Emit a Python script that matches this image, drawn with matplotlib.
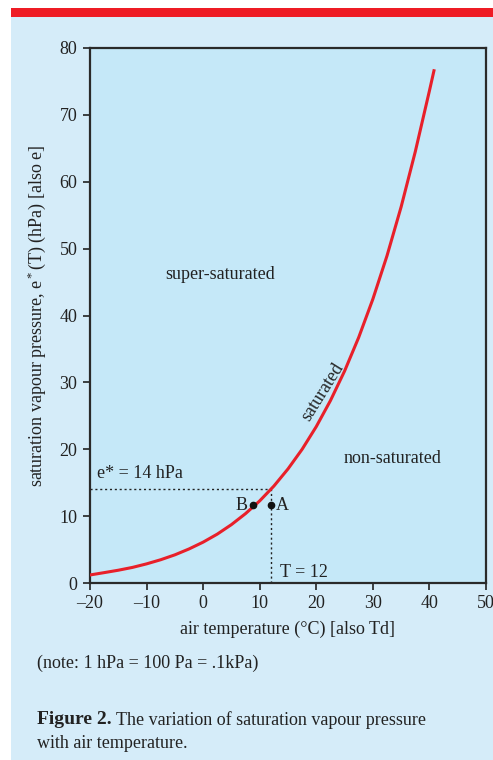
import matplotlib.pyplot as plt
from matplotlib.patches import Rectangle

plt.rcParams['font.family'] = ['Liberation Serif', 'DejaVu Serif']
plt.rcParams['mathtext.fontset'] = 'custom'
plt.rcParams['mathtext.rm'] = 'Liberation Serif'
plt.rcParams['mathtext.it'] = 'Liberation Serif:italic'
plt.rcParams['mathtext.bf'] = 'Liberation Serif:bold'

# saturation vapour pressure (hPa)
temp_c = [-20, -17.5, -15, -12.5, -10, -7.5, -5, -2.5, 0, 2.5, 5, 7.5, 10,
          12.5, 15, 17.5, 20, 22.5, 25, 27.5, 30, 32.5, 35, 37.5, 40, 40.8]
e_sat = [1.2, 1.55, 1.91, 2.33, 2.86, 3.48, 4.21, 5.09, 6.11, 7.31, 8.73,
         10.38, 12.28, 14.49, 17.06, 20.0, 23.39, 27.27, 31.69, 36.73,
         42.45, 48.93, 56.25, 64.5, 73.6, 76.6]

dew_temp = 12
dew_e = 14
pt_a = (12.0, 11.6)
pt_b = (8.8, 11.6)

x_ticks = [-20, -10, 0, 10, 20, 30, 40, 50]
y_ticks = [0, 10, 20, 30, 40, 50, 60, 70, 80]

fig = plt.figure(figsize=(4.93, 7.6), dpi=100)
fig.patch.set_facecolor('white')
fig.patches.append(Rectangle((11 / 493, 0), 1, (760 - 17) / 760, transform=fig.transFigure,
                             facecolor='#d5ecf9', edgecolor='none', zorder=-10))
fig.patches.append(Rectangle((11 / 493, (760 - 17) / 760), 1, 9 / 760, transform=fig.transFigure,
                             facecolor='#ee1c25', edgecolor='none', zorder=-10))

ax = fig.add_axes([90 / 493, 177 / 760, 396 / 493, 535 / 760])
ax.set_facecolor('#c5e8f8')
ax.plot(temp_c, e_sat, color='#e8202a', lw=2.2, zorder=3)

ax.plot([-20, dew_temp], [dew_e, dew_e], ls=(0, (1.5, 2)), color='#222222', lw=1)
ax.plot([dew_temp, dew_temp], [0, dew_e], ls=(0, (1.5, 2)), color='#222222', lw=1)
ax.plot(*pt_a, 'o', color='#111111', ms=4.5, zorder=4)
ax.plot(*pt_b, 'o', color='#111111', ms=4.5, zorder=4)

fs = 13
ink = '#222222'
ax.text(pt_b[0] - 0.9, pt_b[1], 'B', ha='right', va='center', fontsize=fs, color=ink)
ax.text(pt_a[0] + 0.9, pt_a[1], 'A', ha='left', va='center', fontsize=fs, color=ink)
ax.text(-18.8, 16.4, 'e* = 14 hPa', ha='left', va='center', fontsize=fs, color=ink)
ax.text(13.5, 1.6, 'T = 12', ha='left', va='center', fontsize=fs, color=ink)
ax.text(3, 46.2, 'super-saturated', ha='center', va='center', fontsize=fs, color=ink)
ax.text(33.5, 18.6, 'non-saturated', ha='center', va='center', fontsize=fs, color=ink)
ax.text(21.2, 28.6, 'saturated', ha='center', va='center', fontsize=fs, rotation=58,
        color=ink)

ax.set_xlim(-20, 50)
ax.set_ylim(0, 80)
ax.set_xticks(x_ticks)
ax.set_yticks(y_ticks)
ax.set_xticklabels(['\u201320', '\u201310', '0', '10', '20', '30', '40', '50'])
ax.tick_params(labelsize=fs, colors=ink, length=5, width=1.2, direction='out', pad=4)
for s in ax.spines.values():
    s.set_color('#2a2a2a')
    s.set_linewidth(1.6)

ax.set_xlabel('air temperature (\u00b0C) [also Td]', fontsize=fs, color=ink, labelpad=6)
ax.set_ylabel('saturation vapour pressure, e$^*$(T) (hPa) [also e]', fontsize=fs,
              color=ink, labelpad=8)

fig.text(37 / 493, 1 - 663 / 760, '(note: 1 hPa = 100 Pa = .1kPa)', fontsize=fs,
         color=ink, va='center')
bold = fig.text(37 / 493, 1 - 720 / 760, 'Figure 2.', fontsize=fs + 1, fontweight='bold',
                color=ink, va='center')
renderer = fig.canvas.get_renderer()
bb = bold.get_window_extent(renderer)
fig.text((bb.x1 + 4) / 493, 1 - 720 / 760, 'The variation of saturation vapour pressure',
         fontsize=fs, color=ink, va='center')
fig.text(37 / 493, 1 - 743 / 760, 'with air temperature.', fontsize=fs, color=ink,
         va='center')

fig.savefig('out.png', dpi=100)
